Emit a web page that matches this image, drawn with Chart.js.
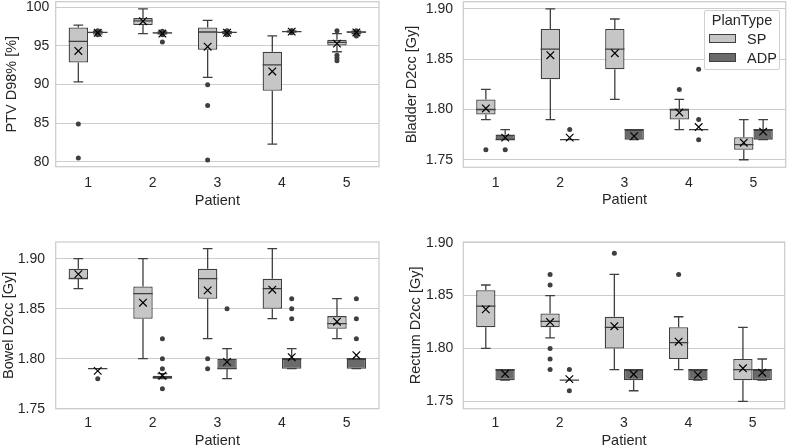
<!DOCTYPE html>
<html>
<head>
<meta charset="utf-8">
<script src="https://cdn.jsdelivr.net/npm/chart.js@4.4.1/dist/chart.umd.min.js"></script>
<style>
html, body { margin: 0; padding: 0; background: #fff; }
#wrap { position: relative; width: 788px; height: 447px; overflow: hidden; font-family: "Liberation Sans", Arial, sans-serif; color: #262626; }
canvas { position: absolute; }
#legend { position: absolute; left: 704px; top: 10px; width: 76px; height: 60px; box-sizing: border-box; border: 1px solid #d0d0d0; border-radius: 2px; background: rgba(255,255,255,0.85); font-size: 14.5px; }
#legend .title { position: absolute; left: 0; width: 74px; top: 1px; text-align: center; line-height: 17px; }
#legend .patch { position: absolute; left: 4px; width: 27px; height: 9px; box-sizing: border-box; border: 1px solid #3f3f3f; }
#legend .lab { position: absolute; left: 42px; line-height: 17px; }
</style>
</head>
<body>
<div id="wrap">
  <canvas id="c1" width="394" height="220" style="left:0;top:0"></canvas>
  <canvas id="c2" width="394" height="220" style="left:394px;top:0"></canvas>
  <canvas id="c3" width="394" height="240" style="left:0;top:220px"></canvas>
  <canvas id="c4" width="394" height="240" style="left:394px;top:220px"></canvas>
  <div id="legend">
    <div class="title">PlanType</div>
    <div class="patch" style="top:23px;background:#c6c6c6"></div><div class="lab" style="top:20px">SP</div>
    <div class="patch" style="top:42px;background:#6a6a6a"></div><div class="lab" style="top:39px">ADP</div>
  </div>
</div>
<script>
// Patients (x categories)
const patients = ['1', '2', '3', '4', '5'];

// Box stats per patient: [whisker low, Q1, median, Q3, whisker high]
// --- PTV D98% [%]
const ptvSP = [[90.35, 92.85, 95.6, 97.4, 97.7], [96.6, 97.7, 98.25, 98.6, 99.8], [90.95, 94.5, 96.8, 97.4, 98.3], [82.3, 89.2, 92.55, 94.25, 96.3], [94.25, 95.05, 95.45, 95.8, 96.6]];
const ptvSPMean = [94.35, 98.2, 94.9, 91.7, 95.3];
const ptvSPOut = [[84.9, 80.5], [], [90.0, 87.3, 80.25], [], [96.95, 93.8, 93.45, 93.1]];
const ptvADP = [[96.55, 96.65, 96.75, 96.8, 96.9], [96.55, 96.6, 96.7, 96.75, 96.8], [96.6, 96.7, 96.75, 96.8, 96.85], [96.78, 96.8, 96.85, 96.9, 96.95], [96.6, 96.7, 96.8, 96.85, 96.9]];
const ptvADPMean = [96.7, 96.6, 96.7, 96.85, 96.75];
const ptvADPOut = [[96.45, 96.5, 96.95], [95.5, 96.45, 96.9], [96.45, 96.5, 96.95], [96.7, 97.0], [96.3, 96.45, 96.95]];
const ptvTicks = [80, 85, 90, 95, 100];

// --- Bladder D2cc [Gy]
const bladderSP = [[1.79, 1.795, 1.80, 1.81, 1.82], [1.79, 1.83, 1.86, 1.88, 1.90], [1.81, 1.84, 1.86, 1.88, 1.89], [1.78, 1.79, 1.80, 1.80, 1.81], [1.75, 1.76, 1.765, 1.7725, 1.79]];
const bladderSPMean = [1.801, 1.854, 1.856, 1.797, 1.767];
const bladderSPOut = [[1.76], [], [], [1.82], []];
const bladderADP = [[1.77, 1.77, 1.77, 1.775, 1.78], [1.77, 1.77, 1.77, 1.77, 1.77], [1.77, 1.77, 1.78, 1.78, 1.78], [1.78, 1.78, 1.78, 1.78, 1.78], [1.77, 1.77, 1.78, 1.78, 1.79]];
const bladderADPMean = [1.772, 1.772, 1.7735, 1.7825, 1.778];
const bladderADPOut = [[1.76], [1.78], [], [1.84, 1.79, 1.77], []];

// --- Bowel D2cc [Gy]
const bowelSP = [[1.87, 1.88, 1.88, 1.89, 1.90], [1.80, 1.84, 1.865, 1.8723, 1.90], [1.82, 1.86, 1.88, 1.89, 1.91], [1.84, 1.85, 1.87, 1.88, 1.91], [1.82, 1.83, 1.835, 1.8426, 1.86]];
const bowelSPMean = [1.8846, 1.856, 1.8683, 1.869, 1.837];
const bowelSPOut = [[], [], [1.80, 1.79], [], []];
const bowelADP = [[1.79, 1.79, 1.79, 1.79, 1.79], [1.78, 1.78, 1.781, 1.783, 1.785], [1.78, 1.79, 1.79, 1.80, 1.81], [1.79, 1.79, 1.80, 1.80, 1.81], [1.79, 1.79, 1.80, 1.80, 1.80]];
const bowelADPMean = [1.7878, 1.783, 1.7968, 1.8015, 1.8035];
const bowelADPOut = [[1.78], [1.82, 1.80, 1.79, 1.77], [1.85], [1.86, 1.85, 1.84], [1.86, 1.84, 1.82]];

// --- Rectum D2cc [Gy]
const rectumSP = [[1.80, 1.82, 1.84, 1.855, 1.86], [1.81, 1.82, 1.8256, 1.833, 1.85], [1.78, 1.80, 1.82, 1.83, 1.87], [1.78, 1.79, 1.8055, 1.82, 1.83], [1.75, 1.77, 1.78, 1.79, 1.82]];
const rectumSPMean = [1.837, 1.825, 1.821, 1.8064, 1.7812];
const rectumSPOut = [[], [1.87, 1.86, 1.80, 1.79, 1.78], [1.89], [1.87], []];
const rectumADP = [[1.77, 1.77, 1.78, 1.78, 1.78], [1.77, 1.77, 1.77, 1.77, 1.77], [1.76, 1.77, 1.78, 1.78, 1.78], [1.77, 1.77, 1.78, 1.78, 1.78], [1.77, 1.77, 1.78, 1.78, 1.79]];
const rectumADPMean = [1.776, 1.771, 1.7755, 1.775, 1.7771];
const rectumADPOut = [[], [1.78, 1.76], [], [], []];

const doseTicks = [1.75, 1.80, 1.85, 1.90];

// Couleurs
const spFill = '#c6c6c6';
const adpFill = '#6a6a6a';
const edge = '#3f3f3f';
const txt = '#262626';
const FONT = '"Liberation Sans", Arial, sans-serif';

// Cadre gris autour de la zone du graphique
const framePlugin = {
    id: 'frame',
    beforeDatasetsDraw(chart) {
        const a = chart.chartArea, c = chart.ctx;
        c.save();
        c.strokeStyle = '#cccccc';
        c.lineWidth = 1.25;
        c.strokeRect(a.left, a.top, a.right - a.left, a.bottom - a.top);
        c.restore();
    }
};

// Moustaches, médianes, moyennes et points aberrants
const boxPlugin = {
    id: 'boxes',
    afterDatasetsDraw(chart) {
        const c = chart.ctx, y = chart.scales.y;
        c.save();
        chart.data.datasets.forEach((ds, di) => {
            chart.getDatasetMeta(di).data.forEach((bar, i) => {
                const [lo, q1, med, q3, hi] = ds.stats[i];
                const x = bar.x, w = bar.width, cap = w / 4;
                c.strokeStyle = edge;
                c.lineWidth = 1.3;
                c.beginPath();
                c.moveTo(x, y.getPixelForValue(q3)); c.lineTo(x, y.getPixelForValue(hi));
                c.moveTo(x, y.getPixelForValue(q1)); c.lineTo(x, y.getPixelForValue(lo));
                c.moveTo(x - cap, y.getPixelForValue(hi)); c.lineTo(x + cap, y.getPixelForValue(hi));
                c.moveTo(x - cap, y.getPixelForValue(lo)); c.lineTo(x + cap, y.getPixelForValue(lo));
                c.moveTo(x - w / 2, y.getPixelForValue(med)); c.lineTo(x + w / 2, y.getPixelForValue(med));
                c.stroke();
                // points aberrants
                c.fillStyle = edge;
                ds.outliers[i].forEach(v => {
                    c.beginPath();
                    c.arc(x, y.getPixelForValue(v), 2.5, 0, Math.PI * 2);
                    c.fill();
                });
                // moyenne (x)
                const my = y.getPixelForValue(ds.means[i]), s = 3.8;
                c.strokeStyle = '#000';
                c.lineWidth = 1.2;
                c.beginPath();
                c.moveTo(x - s, my - s); c.lineTo(x + s, my + s);
                c.moveTo(x - s, my + s); c.lineTo(x + s, my - s);
                c.stroke();
            });
        });
        c.restore();
    }
};

function makeDataset(label, stats, means, outliers, fill) {
    return {
        label: label,
        data: stats.map(s => [s[1], s[3]]),
        stats: stats,
        means: means,
        outliers: outliers,
        backgroundColor: fill,
        borderColor: edge,
        borderWidth: 1.3,
        borderSkipped: false,
        categoryPercentage: 0.6,
        barPercentage: 1.0
    };
}

function makeChart(id, cfg) {
    return new Chart(document.getElementById(id), {
        type: 'bar',
        data: {
            labels: patients,
            datasets: [
                makeDataset('SP', cfg.sp, cfg.spMean, cfg.spOut, spFill),
                makeDataset('ADP', cfg.adp, cfg.adpMean, cfg.adpOut, adpFill)
            ]
        },
        options: {
            responsive: false,
            animation: false,
            devicePixelRatio: 1,
            layout: { padding: { top: cfg.top, right: cfg.right, left: 0, bottom: 0 } },
            plugins: { legend: { display: false }, tooltip: { enabled: false } },
            scales: {
                x: {
                    grid: { display: false, drawTicks: false },
                    border: { display: false },
                    ticks: { color: txt, font: { family: FONT, size: 14 }, padding: cfg.xpad },
                    title: { display: true, text: 'Patient', color: txt, font: { family: FONT, size: 14.5 }, padding: { top: 0, bottom: cfg.xtpad } },
                    afterFit: s => { s.height = cfg.xh; s.paddingLeft = 0; s.paddingRight = 0; }
                },
                y: {
                    min: cfg.min,
                    max: cfg.max,
                    afterBuildTicks: s => { s.ticks = cfg.ticks.map(v => ({ value: v })); },
                    grid: { color: '#cccccc', lineWidth: 1, drawTicks: false },
                    border: { display: false },
                    ticks: { color: txt, font: { family: FONT, size: 14 }, padding: cfg.ypad, callback: cfg.fmt },
                    title: { display: true, text: cfg.label, color: txt, font: { family: FONT, size: 14.5 }, padding: { top: cfg.ytpad, bottom: 0 } },
                    afterFit: s => { s.width = cfg.left; s.paddingTop = 0; s.paddingBottom = 0; }
                }
            }
        },
        plugins: [framePlugin, boxPlugin]
    });
}

const fmtInt = v => String(v);
const fmt2 = v => v.toFixed(2);

makeChart('c1', { sp: ptvSP, spMean: ptvSPMean, spOut: ptvSPOut, adp: ptvADP, adpMean: ptvADPMean, adpOut: ptvADPOut,
    ticks: ptvTicks, fmt: fmtInt, label: 'PTV D98% [%]', min: 79.39, max: 100.72,
    top: 1.7, right: 15, left: 55.7, xh: 53.3, xpad: 7.9, xtpad: 10.6, ypad: 6.4, ytpad: 3 });

makeChart('c2', { sp: bladderSP, spMean: bladderSPMean, spOut: bladderSPOut, adp: bladderADP, adpMean: bladderADPMean, adpOut: bladderADPOut,
    ticks: doseTicks, fmt: fmt2, label: 'Bladder D2cc [Gy]', min: 1.7425, max: 1.9072,
    top: 1.7, right: 2.3, left: 69.3, xh: 52.7, xpad: 7.6, xtpad: 11.3, ypad: 10.3, ytpad: 8.8 });

makeChart('c3', { sp: bowelSP, spMean: bowelSPMean, spOut: bowelSPOut, adp: bowelADP, adpMean: bowelADPMean, adpOut: bowelADPOut,
    ticks: doseTicks, fmt: fmt2, label: 'Bowel D2cc [Gy]', min: 1.75, max: 1.9167,
    top: 22, right: 15, left: 55.7, xh: 51.3, xpad: 6.2, xtpad: 10.8, ypad: 10.7, ytpad: 0 });

makeChart('c4', { sp: rectumSP, spMean: rectumSPMean, spOut: rectumSPOut, adp: rectumADP, adpMean: rectumADPMean, adpOut: rectumADPOut,
    ticks: doseTicks, fmt: fmt2, label: 'Rectum D2cc [Gy]', min: 1.743, max: 1.9007,
    top: 22, right: 3.3, left: 69.3, xh: 51.3, xpad: 6.2, xtpad: 10.8, ypad: 10, ytpad: 13.3 });
</script>
</body>
</html>
